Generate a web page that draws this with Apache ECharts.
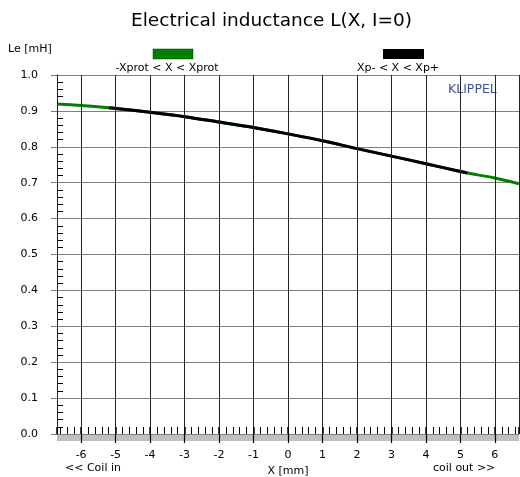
<!DOCTYPE html>
<html>
<head>
<meta charset="utf-8">
<script src="https://cdn.jsdelivr.net/npm/echarts@6/dist/echarts.min.js"></script>
<style>html,body{margin:0;padding:0;background:#fff}#c{width:520px;height:477px}</style>
</head>
<body>
<div id="c"></div>
<script>
// Displacement X [mm] and inductance Le [mH]
const xFull = [-6.7, -6, -5.2, -5, -4, -3, -2, -1, 0, 1, 2, 3, 4, 5, 5.2, 6, 6.7];
const leFull = [0.919, 0.915, 0.909, 0.907, 0.896, 0.884, 0.869, 0.854, 0.836, 0.817, 0.795, 0.774, 0.753, 0.731, 0.727, 0.713, 0.697];
// Range Xp- < X < Xp+ (black)
const xInner = [-5.2, -5, -4, -3, -2, -1, 0, 1, 2, 3, 4, 5, 5.2];
const leInner = [0.909, 0.907, 0.896, 0.884, 0.869, 0.854, 0.836, 0.817, 0.795, 0.774, 0.753, 0.731, 0.727];
const legendNames = ['-Xprot < X < Xprot', 'Xp- < X < Xp+'];
const titleText = 'Electrical inductance L(X, I=0)';

const FONT = '"DejaVu Sans", "Liberation Sans", Arial, sans-serif';
const chart = echarts.init(document.getElementById('c'), null, {renderer: 'canvas'});
const pairs = (xs, ys) => xs.map((x, i) => [x, ys[i]]);

const xCommon = {type: 'value', min: -6.7, max: 6.7, minInterval: 1, maxInterval: 1, splitNumber: 13, position: 'bottom'};

chart.setOption({
  animation: false,
  backgroundColor: '#fff',
  textStyle: {fontFamily: FONT},
  title: {text: titleText, left: 126, top: 7,
    textStyle: {fontFamily: FONT, fontSize: 18.5, fontWeight: 'normal', color: '#000'}},
  grid: {left: 57, right: 1, top: 75, bottom: 43, containLabel: false, outerBoundsMode: 'none'},
  xAxis: [
    // grey band under the X axis (declared first so it is drawn underneath)
    Object.assign({}, xCommon, {offset: 4, z: 0,
      axisLine: {show: true, onZero: false, lineStyle: {color: '#c0c0c0', width: 6, cap: 'butt'}},
      axisTick: {show: false}, axisLabel: {show: false}, splitLine: {show: false}}),
    Object.assign({}, xCommon, {z: 20,
      name: 'X [mm]', nameLocation: 'middle', nameGap: 27,
      nameTextStyle: {fontFamily: FONT, fontSize: 11, color: '#000'},
      axisLine: {show: false, onZero: false},
      axisTick: {show: true, inside: false, length: 9, lineStyle: {color: '#000', width: 1.2}},
      axisLabel: {margin: 16, fontFamily: FONT, fontSize: 11, color: '#000',
        showMinLabel: false, showMaxLabel: false},
      splitLine: {show: true, lineStyle: {color: '#222', width: 1}}}),
    Object.assign({}, xCommon, {z: 20,
      axisLine: {show: false, onZero: false},
      axisTick: {show: true, inside: true, length: 7, lineStyle: {color: '#000', width: 1.5}},
      minorTick: {show: true, splitNumber: 5, length: 7, lineStyle: {color: '#000', width: 1}},
      axisLabel: {show: false}, splitLine: {show: false}})
  ],
  yAxis: [
    {type: 'value', min: 0, max: 1, interval: 0.1, position: 'left',
      axisLine: {show: true, onZero: false, lineStyle: {color: '#000', width: 1}},
      axisTick: {show: true, inside: false, length: 6, lineStyle: {color: '#777'}},
      axisLabel: {margin: 19, fontFamily: FONT, fontSize: 11, color: '#000',
        formatter: v => v.toFixed(1)},
      splitLine: {show: true, lineStyle: {color: '#808080', width: 1}}},
    {type: 'value', min: 0, max: 1, interval: 0.1, position: 'left',
      axisLine: {show: false, onZero: false},
      axisTick: {show: false, inside: true},
      minorTick: {show: true, splitNumber: 5, length: 6, lineStyle: {color: '#000', width: 1}},
      axisLabel: {show: false}, splitLine: {show: false}}
  ],
  graphic: [
    {type: 'text', left: 8, top: 44, style: {text: 'Le [mH]', font: '11px ' + FONT, fill: '#000'}},
    {type: 'rect', shape: {x: 153, y: 49, width: 40, height: 10}, style: {fill: '#007f00', stroke: '#004000', lineWidth: 0.5}},
    {type: 'text', x: 167, y: 63, style: {text: legendNames[0], font: '11px ' + FONT, fill: '#000', textAlign: 'center'}},
    {type: 'rect', shape: {x: 383, y: 49, width: 41, height: 10}, style: {fill: '#000'}},
    {type: 'text', x: 398, y: 63, style: {text: legendNames[1], font: '11px ' + FONT, fill: '#000', textAlign: 'center'}},
    {type: 'text', x: 448, y: 83, style: {text: 'KLIPPEL', font: '12.5px ' + FONT, fill: '#3b52a3'}},
    {type: 'text', x: 65, y: 463, style: {text: '<< Coil in', font: '11px ' + FONT, fill: '#000'}},
    {type: 'text', x: 433, y: 463, style: {text: 'coil out >>', font: '11px ' + FONT, fill: '#000'}}
  ],
  series: [
    {name: legendNames[0], type: 'line', xAxisIndex: 1, yAxisIndex: 0, data: pairs(xFull, leFull),
      showSymbol: false, smooth: 0.3, lineStyle: {color: '#008000', width: 3}, z: 3},
    {name: legendNames[1], type: 'line', xAxisIndex: 1, yAxisIndex: 0, data: pairs(xInner, leInner),
      showSymbol: false, smooth: 0.3, lineStyle: {color: '#000', width: 3}, z: 4}
  ]
});
</script>
</body>
</html>
